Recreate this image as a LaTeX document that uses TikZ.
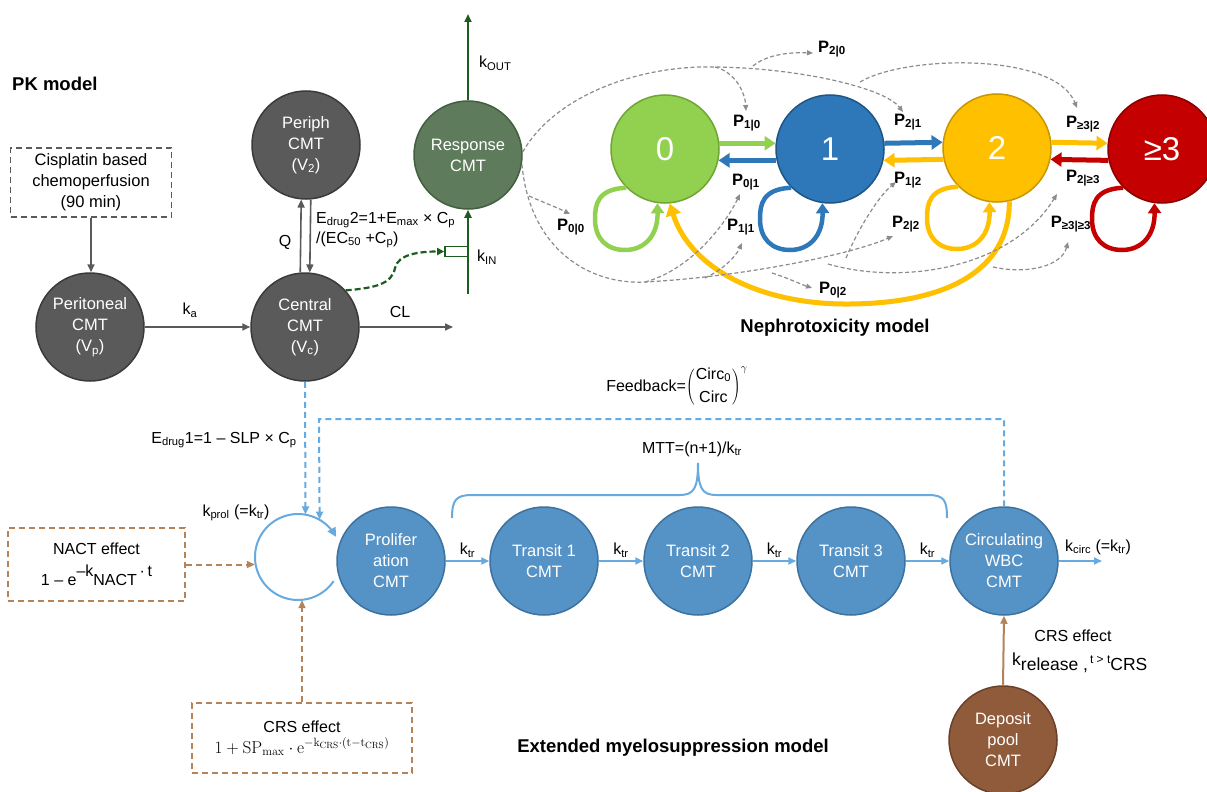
\documentclass[tikz,border=0pt]{standalone}
\usepackage[no-math]{fontspec}
\setmainfont{Liberation Sans}
\usetikzlibrary{arrows.meta}
\definecolor{pkg}{HTML}{5A5A5A}
\definecolor{pkgd}{HTML}{3A3A3A}
\definecolor{respg}{HTML}{5E7B5C}
\definecolor{respgd}{HTML}{435E40}
\definecolor{dgreen}{HTML}{1E5B1E}
\definecolor{cz}{HTML}{92D050}
\definecolor{czd}{HTML}{6FA535}
\definecolor{co}{HTML}{2E78BA}
\definecolor{cod}{HTML}{1D5585}
\definecolor{ct}{HTML}{FFC000}
\definecolor{ctd}{HTML}{C89600}
\definecolor{cr}{HTML}{C40000}
\definecolor{crd}{HTML}{880000}
\definecolor{mb}{HTML}{5592C6}
\definecolor{mbd}{HTML}{3C72A0}
\definecolor{lb}{HTML}{66AADF}
\definecolor{brn}{HTML}{B5835A}
\definecolor{depc}{HTML}{8F5B3A}
\definecolor{depcd}{HTML}{6B4027}
\definecolor{gd}{HTML}{8C8C8C}
\newcommand\cfont{\fontsize{16.5}{21}\selectfont}
\newcommand\lfont{\fontsize{16}{20}\selectfont}
\newcommand\Pl[1]{\textbf{P}\textsubscript{\bfseries #1}}
\begin{document}
\begin{tikzpicture}[x=1pt,y=-1pt,
  circ/.style={circle, minimum size=108pt, inner sep=0pt, align=center, text=white, font=\cfont, line width=1.5pt},
  pkc/.style={circ, fill=pkg, draw=pkgd},
  respc/.style={circ, fill=respg, draw=respgd},
  myc/.style={circ, fill=mb, draw=mbd},
  depcirc/.style={circ, fill=depc, draw=depcd},
  state/.style={circle, minimum size=108pt, inner sep=0pt, text=white, font=\fontsize{33}{33}\selectfont, line width=1.5pt},
  lab/.style={font=\lfont, inner sep=1pt},
  plab/.style={font=\fontsize{16.5}{18}\selectfont, inner sep=1pt},
  ttl/.style={font=\fontsize{18.5}{22}\selectfont\bfseries, inner sep=0pt},
  pkarrow/.style={draw=pkg, line width=1.6pt, -{Triangle[length=8pt,width=7pt]}},
  garrow/.style={draw=dgreen, line width=2pt, -{Triangle[length=8pt,width=7pt]}},
  gdashg/.style={draw=dgreen, line width=2.2pt, dash pattern=on 6pt off 3pt, -{Triangle[length=7pt,width=7pt]}},
  trans/.style={line width=5pt, -{Triangle[length=11pt,width=14pt]}},
  selfl/.style={line width=4.5pt, -{Triangle[length=10pt,width=13pt]}},
  gdash/.style={draw=gd, line width=1.2pt, dash pattern=on 4pt off 2.5pt, -{Triangle[length=6pt,width=5pt]}},
  barrow/.style={draw=lb, line width=1.8pt, -{Triangle[length=8pt,width=7pt]}},
  bdash/.style={draw=lb, line width=2pt, dash pattern=on 6pt off 4pt, -{Triangle[length=8pt,width=7pt]}},
  brdash/.style={draw=brn, line width=2pt, dash pattern=on 6pt off 4pt, -{Triangle[length=8pt,width=7pt]}},
  brarrow/.style={draw=brn, line width=2pt, -{Triangle[length=8pt,width=7pt]}},
  bbox/.style={draw=brn, line width=2pt, dash pattern=on 6pt off 4pt, align=center, font=\lfont, inner sep=0pt},
]
\fill[white] (0,0) rectangle (1207,792);
\useasboundingbox (0,0) rectangle (1207,792);

% ---------------- titles
\node[ttl, anchor=west] (pktitle) at (12,84) {PK model};
\node[ttl] (nephtitle) at (835,328) {Nephrotoxicity model};
\node[ttl] (myetitle) at (673,748) {Extended myelosuppression model};

% ---------------- PK model
\node[draw=pkg, line width=1.6pt, dash pattern=on 6pt off 4pt, minimum width=161pt, minimum height=69pt,
      align=center, font=\cfont, inner sep=0pt] (cis) at (91,182.5) {Cisplatin based\\chemoperfusion\\(90 min)};
\node[pkc] (perit) at (90,327) {Peritoneal\\CMT\\(V\textsubscript{p})};
\node[pkc] (central) at (305,327) {Central\\CMT\\(V\textsubscript{c})};
\node[pkc] (periph) at (306,145) {Periph\\CMT\\(V\textsubscript{2})};
\draw[pkarrow] (cis.south) -- (cis.south |- perit.north);
\draw[pkarrow] (perit.east) -- (central.west);
\node[lab] (kalab) at (190,310) {k\textsubscript{a}};
\draw[pkarrow] (central.95) -- (periph.265);
\draw[pkarrow] (periph.275) -- (central.85);
\node[lab] (qlab) at (285,242) {Q};
\coordinate (clend) at (453,327);
\draw[pkarrow] (central.east) -- (clend);
\node[lab] (cllab) at (400,312) {CL};
\node[lab, anchor=west, align=left, font=\fontsize{16}{20}\selectfont] (ed2) at (315,230)
  {E\textsubscript{drug}2=1+E\textsubscript{max} × C\textsubscript{p}\\/(EC\textsubscript{50} +C\textsubscript{p})};

% response
\node[respc] (resp) at (468,155) {Response\\CMT};
\coordinate (kout) at (468,14);
\draw[garrow] (resp.north) -- (kout);
\node[lab, anchor=west] (koutlab) at (478,63) {k\textsubscript{OUT}};
\coordinate (kinb) at (468,294);
\draw[garrow] (kinb) -- (resp.south);
\node[draw=dgreen, line width=1.6pt, fill=white, minimum width=23pt, minimum height=10pt, inner sep=0pt] (kin) at (456.5,251.5) {};
\node[lab, anchor=west] (kinlab) at (476,257) {k\textsubscript{IN}};
\draw[gdashg] (central.42) .. controls (375,288) and (392,284) .. (395,268) .. controls (398,254) and (420,251.5) .. (kin.west);

% ---------------- Nephrotoxicity
\node[state, fill=cz, draw=czd] (s0) at (665,149) {0};
\node[state, fill=co, draw=cod] (s1) at (830,149) {1};
\node[state, fill=ct, draw=ctd] (s2) at (997,148) {2};
\node[state, fill=cr, draw=crd] (s3) at (1162,149) {≥3};

\draw[trans, cz] (s0.6) -- (s1.174);
\draw[trans, co] (s1.192) -- (s0.348);
\draw[trans, co] (s1.6) -- (s2.174);
\draw[trans, ct] (s2.192) -- (s1.348);
\draw[trans, ct] (s2.6) -- (s3.174);
\draw[trans, cr] (s3.192) -- (s2.348);

\foreach \s/\c in {s0/cz, s1/co, s2/ct, s3/cr} {
  \begin{scope}[shift={(\s.center)}]
    \draw[selfl, \c] (\s.225) .. controls (-68,40) and (-70,56) .. (-70,70)
      .. controls (-70,90) and (-58,101) .. (-40,101)
      .. controls (-20,101) and (-7,86) .. (\s.262);
  \end{scope}
}
\draw[line width=5pt, ct, -{Triangle[length=12pt,width=15pt]}] (s2.283) .. controls (1010,262) and (960,303) .. (850,304)
   .. controls (760,305) and (690,268) .. (s0.275);

\node[plab] (p10) at (747,123) {\Pl{1|0}};
\node[plab] (p01) at (746,182) {\Pl{0|1}};
\node[plab] (p21) at (908,122) {\Pl{2|1}};
\node[plab] (p12) at (908,180) {\Pl{1|2}};
\node[plab] (p32) at (1083,124) {\Pl{≥3|2}};
\node[plab] (p23) at (1083,178) {\Pl{2|≥3}};
\node[plab] (p00) at (571,227) {\Pl{0|0}};
\node[plab] (p11) at (741,227) {\Pl{1|1}};
\node[plab] (p22) at (906,224) {\Pl{2|2}};
\node[plab] (p33) at (1071,224) {\Pl{≥3|≥3}};
\node[plab] (p20) at (832,49) {\Pl{2|0}};
\node[plab] (p02) at (833,290) {\Pl{0|2}};

% dashed covariate curves
\coordinate (e21) at (903,112);
\coordinate (e10) at (746,111);
\coordinate (e20) at (813,53);
\coordinate (e32) at (1077,108);
\coordinate (e22) at (893,236);
\coordinate (e01) at (740,194);
\coordinate (e11) at (742,243);
\coordinate (e00) at (570,214);
\coordinate (e12) at (896,182);
\coordinate (e02) at (812,288);
\coordinate (e23) at (1057,194);
\coordinate (e33) at (1068,242);
\coordinate (ba1) at (715,67);
\coordinate (ba2) at (753,66);
\coordinate (bb) at (860,82);
\coordinate (bc0) at (645,282);
\coordinate (bc1) at (705,278);
\coordinate (bc00) at (529,196);
\coordinate (bc12) at (846,258);
\coordinate (bc02) at (772,273);
\coordinate (bd) at (828,264);
\coordinate (be) at (993,267);

\draw[gdash] (resp.3) .. controls (555,95) and (640,65) .. (ba1) .. controls (800,68) and (885,88) .. (e21);
\draw[gdash] (ba1) .. controls (735,72) and (745,92) .. (e10);
\draw[gdash] (ba2) .. controls (765,56) and (785,52) .. (e20);
\draw[gdash] (bb) .. controls (905,55) and (1055,52) .. (e32);
\draw[gdash] (resp.350) .. controls (530,250) and (590,285) .. (bc0) .. controls (740,277) and (850,255) .. (e22);
\draw[gdash] (bc0) .. controls (690,270) and (725,225) .. (e01);
\draw[gdash] (bc1) .. controls (722,270) and (735,258) .. (e11);
\draw[gdash] (bc00) .. controls (545,203) and (558,208) .. (e00);
\draw[gdash] (bc12) .. controls (860,225) and (880,195) .. (e12);
\draw[gdash] (bc02) .. controls (788,278) and (800,284) .. (e02);
\draw[gdash] (bd) .. controls (900,285) and (1010,270) .. (e23);
\draw[gdash] (be) .. controls (1030,275) and (1062,265) .. (e33);

% ---------------- Myelosuppression
\node[circle, minimum size=86pt, inner sep=0pt] (kp) at (298,557) {};
\node[myc] (prolif) at (391,561) {Prolifer\\ation\\CMT};
\node[myc] (t1) at (544,561) {Transit 1\\CMT};
\node[myc] (t2) at (698,561) {Transit 2\\CMT};
\node[myc] (t3) at (851,561) {Transit 3\\CMT};
\node[myc] (wbc) at (1004,561) {Circulating\\WBC\\CMT};
\node[depcirc] (dep) at (1003,740) {Deposit\\pool\\CMT};

\draw[draw=lb, line width=2pt, arrows={Triangle[length=9pt,width=9pt]-}]
  plot[domain=28:326, samples=90] ({298+43*cos(\x)},{557-43*sin(\x)});
\node[lab] (kprollab) at (236,513) {k\textsubscript{prol} (=k\textsubscript{tr})};

\draw[barrow] (prolif) -- node[lab, above=2pt] (ktr1) {k\textsubscript{tr}} (t1);
\draw[barrow] (t1) -- node[lab, above=2pt] (ktr2) {k\textsubscript{tr}} (t2);
\draw[barrow] (t2) -- node[lab, above=2pt] (ktr3) {k\textsubscript{tr}} (t3);
\draw[barrow] (t3) -- node[lab, above=2pt] (ktr4) {k\textsubscript{tr}} (wbc);
\coordinate (kcend) at (1102,561);
\draw[barrow] (wbc.east) -- (kcend);
\node[lab, anchor=west] (kcirclab) at (1064,547) {k\textsubscript{circ} (=k\textsubscript{tr})};

% brace
\draw[lb, line width=2pt] (452,518) .. controls (452,500) and (456,495) .. (472,495) -- (680,495)
  .. controls (694,495) and (698,488) .. (698,463) .. controls (698,488) and (702,495) .. (716,495)
  -- (928,495) .. controls (944,495) and (947,500) .. (947,518);
\node[lab] (mtt) at (692,449) {MTT=(n+1)/k\textsubscript{tr}};

% drug effect & feedback
\draw[bdash] (central.south) -- (kp.80);
\node[lab] (ed1) at (224,440) {E\textsubscript{drug}1=1 – SLP × C\textsubscript{p}};
\coordinate (fbR) at (1004,419);
\coordinate (fbL) at (319,419);
\draw[bdash] (wbc.north) -- (fbR) -- (fbL) -- (kp.60);
\node[lab] (fb) at (677,386) {Feedback=$\displaystyle\left({\mbox{\lfont Circ\textsubscript{0}}\atop\mbox{\lfont Circ}}\right)^{\gamma}$};

% NACT & CRS
\node[bbox, minimum width=177pt, minimum height=73pt] (nact) at (96.5,564.5)
  {NACT effect\\[9pt]1 – e\raisebox{0.6em}{–k}NACT\raisebox{0.6em}{\,·\,t}};
\draw[brdash] (nact.east) -- (nact.east -| kp.west);
\node[bbox, minimum width=220pt, minimum height=70pt] (crs) at (302,738)
  {CRS effect\\[1pt]\fontsize{18}{20}\selectfont$1+\mathrm{SP}_{\max}\cdot\mathrm{e}^{-\mathrm{k}_{\mathrm{CRS}}\cdot(\mathrm{t}-\mathrm{t}_{\mathrm{CRS}})}$};
\draw[brdash] (crs.north) -- (crs.north |- kp.south);

\draw[brarrow] (dep.north) -- (wbc.south);
\node[lab] (crslab) at (1073,636) {CRS effect};
\node[lab, anchor=west] (krel) at (1011,663)
  {\fontsize{17.5}{18}\selectfont\raisebox{5pt}{k}release ,\raisebox{7pt}{\fontsize{12}{12}\selectfont\,t > t}CRS};
\end{tikzpicture}
\end{document}
